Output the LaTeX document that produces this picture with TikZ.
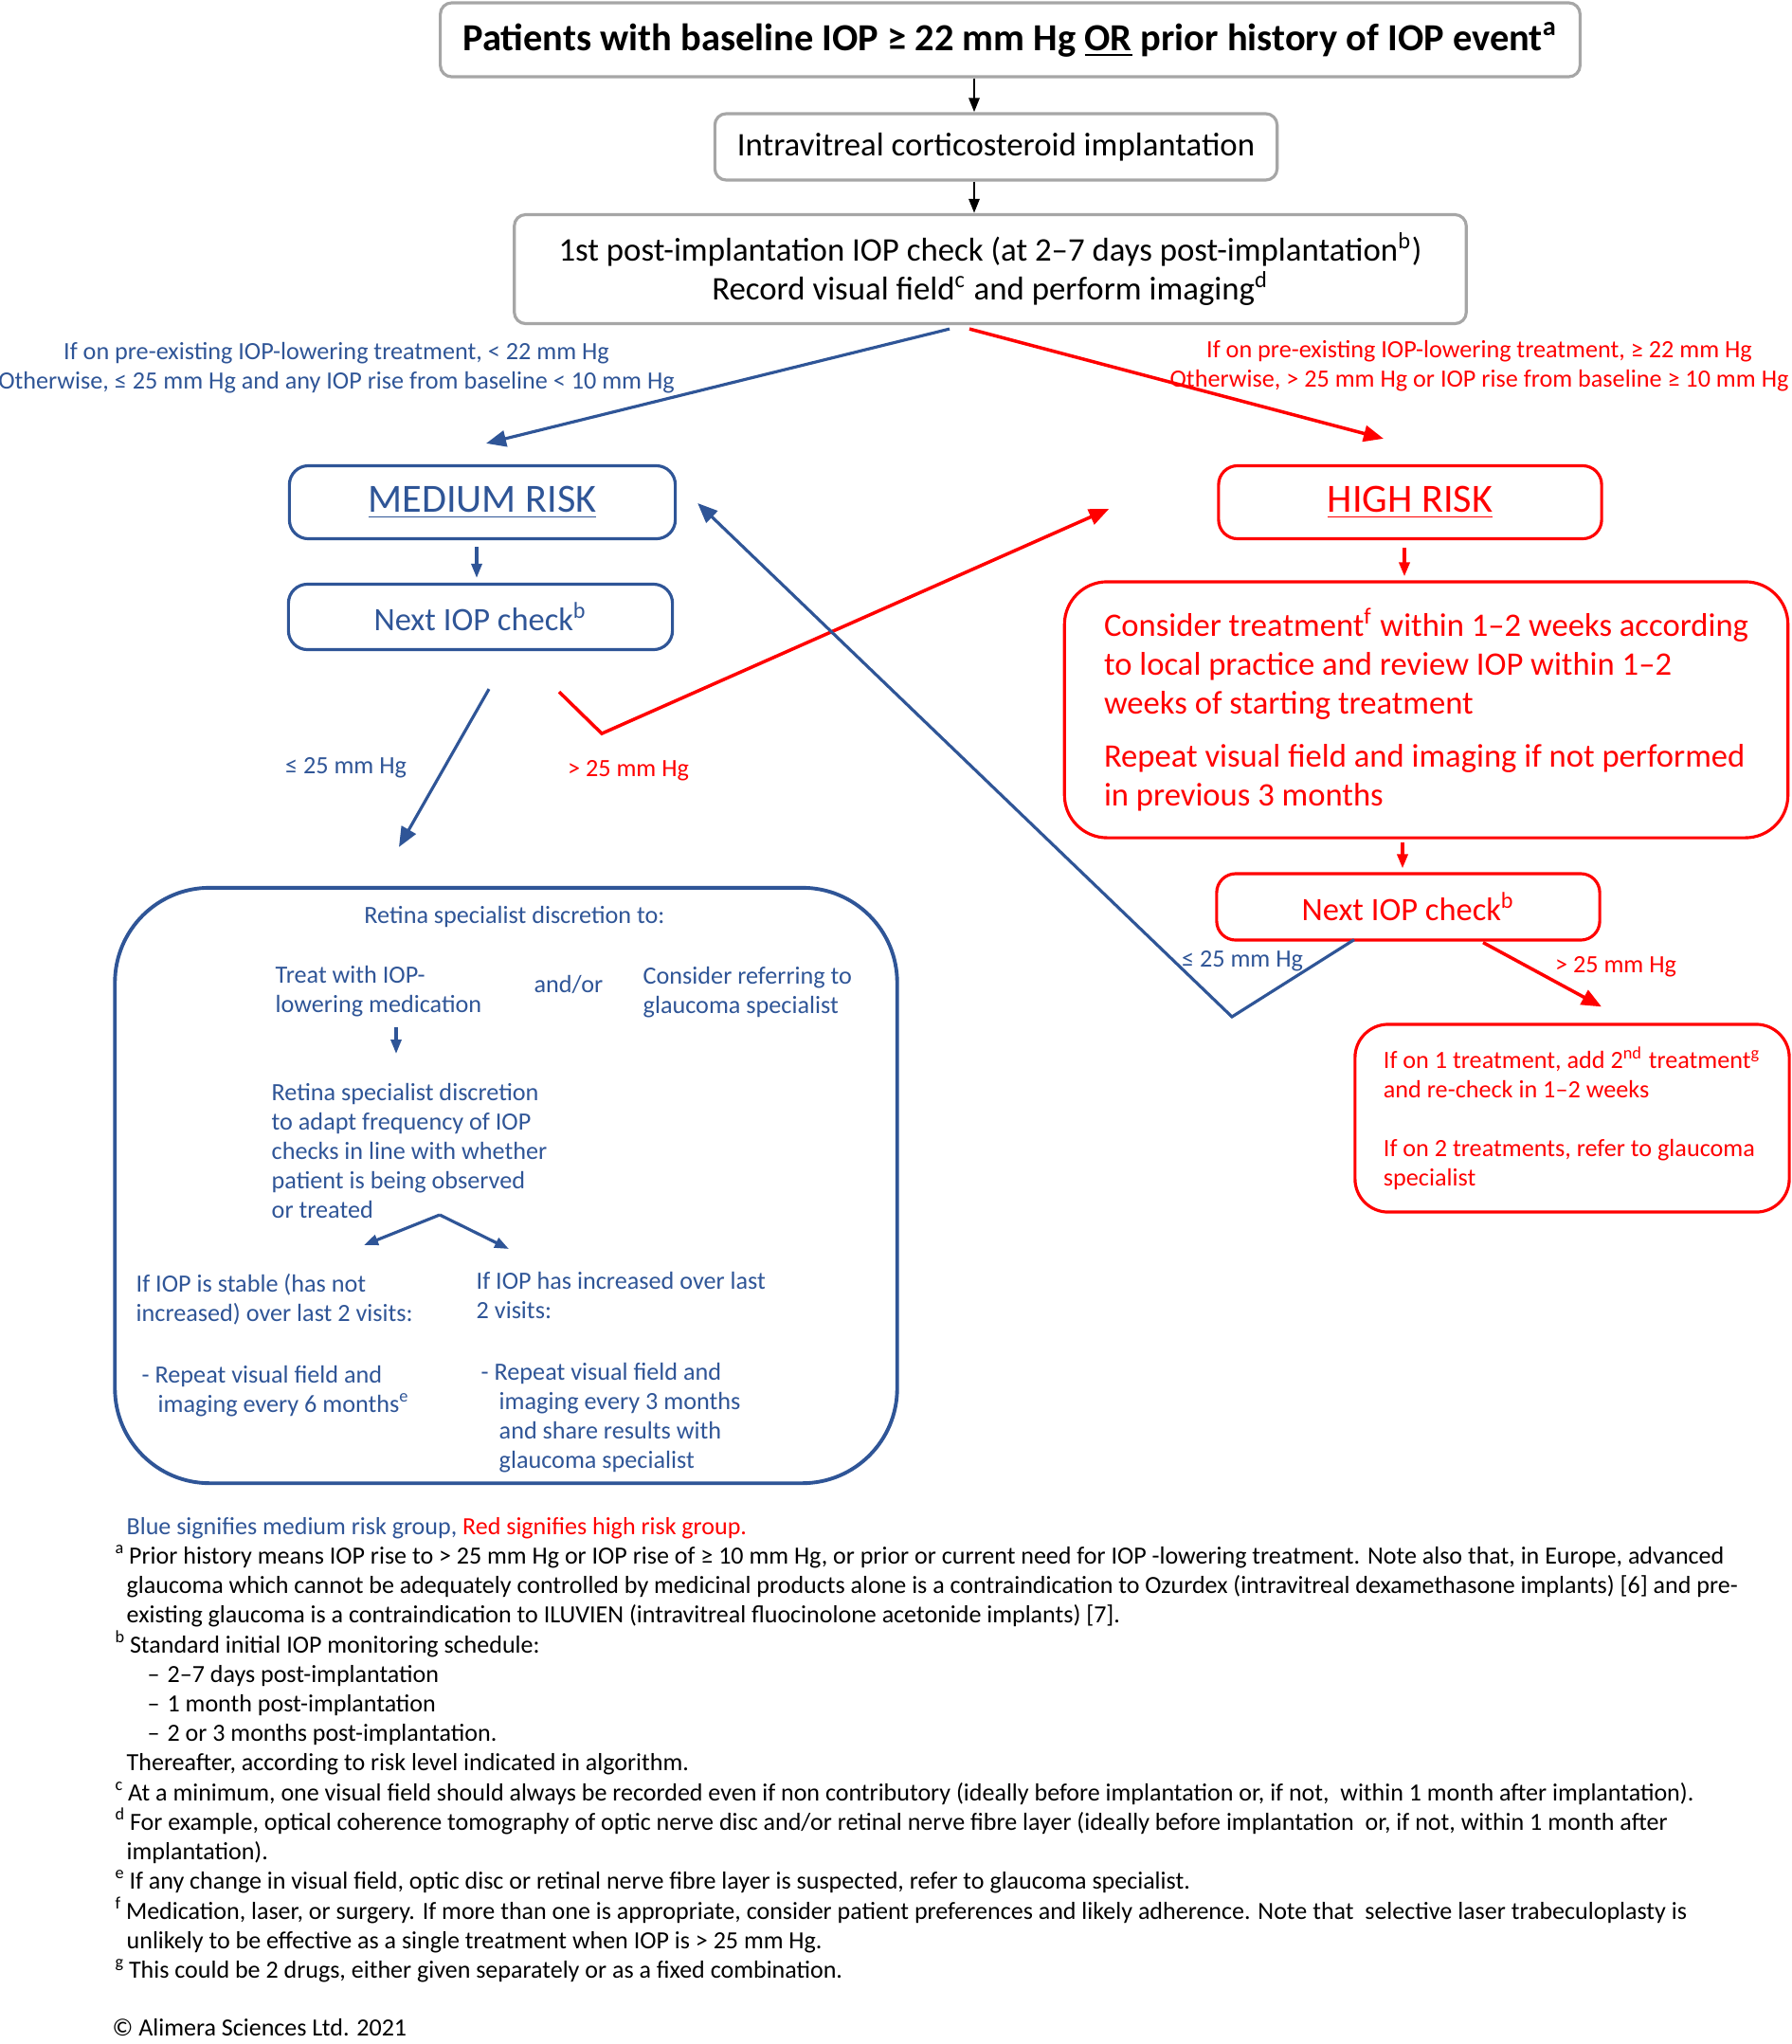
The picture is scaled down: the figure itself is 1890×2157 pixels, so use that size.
\documentclass[tikz,border=0pt]{standalone}
\usepackage{fontspec}
\setmainfont{Carlito}
\usetikzlibrary{positioning, arrows.meta, calc}

\definecolor{medblue}{HTML}{2F5597}
\definecolor{highred}{HTML}{FF0000}
\definecolor{boxgray}{HTML}{A6A6A6}

\tikzset{
  graybox/.style={draw=boxgray, line width=0.9pt, rounded corners=0.12cm, align=center},
  medbox/.style={draw=medblue, text=medblue, line width=0.9pt, rounded corners=0.2cm, align=center},
  highbox/.style={draw=highred, text=highred, line width=0.9pt, rounded corners=0.2cm, align=center},
  medtxt/.style={text=medblue, font=\fontsize{7.45}{8.8}\selectfont, inner sep=0pt, align=left},
  hightxt/.style={text=highred, font=\fontsize{7.45}{8.8}\selectfont, inner sep=0pt, align=left},
  note/.style={anchor=base west, inner sep=0pt, font=\fontsize{7.4}{8.8}\selectfont},
  medline/.style={draw=medblue, line width=0.9pt},
  highline/.style={draw=highred, line width=1.0pt},
  smalltip/.style={-{Triangle[length=0.15cm, width=0.11cm]}},
}
\newcommand{\fnmark}[1]{\textsuperscript{#1}\hspace{0.04cm}}

\begin{document}
\begin{tikzpicture}[x=0.01cm, y=-0.01cm, >={Triangle[length=0.21cm, width=0.17cm]}]
    \useasboundingbox[fill=white] (0,0) rectangle (1890,2157);

    % Top of the flow
    \node[graybox, minimum width=12.02cm, minimum height=0.78cm,
          font=\bfseries\fontsize{11.5}{13.5}\selectfont] (patients) at (1066,42)
        {Patients with baseline IOP ≥ 22 mm Hg \underline{OR} prior history of IOP event\textsuperscript{a}};
    \node[graybox, minimum width=5.93cm, minimum height=0.70cm,
          font=\fontsize{9.9}{11.7}\selectfont] (implant) at (1051,155)
        {Intravitreal corticosteroid implantation};
    \node[graybox, minimum width=10.04cm, minimum height=1.15cm,
          font=\fontsize{9.9}{11.7}\selectfont] (check1) at (1045,284)
        {1st post-implantation IOP check (at 2–7 days post-implantation\textsuperscript{b})\\
         Record visual field\textsuperscript{c} and perform imaging\textsuperscript{d}};
    \coordinate (arrx) at (1028,0);

    % Conditions
    \node[medtxt, align=center, anchor=base] (medcond) at (355,410)
        {If on pre-existing IOP-lowering treatment, < 22 mm Hg\\
         Otherwise, ≤ 25 mm Hg and any IOP rise from baseline < 10 mm Hg};
    \node[hightxt, align=center, anchor=base] (highcond) at (1561,408)
        {If on pre-existing IOP-lowering treatment, ≥ 22 mm Hg\\
         Otherwise, > 25 mm Hg or IOP rise from baseline ≥ 10 mm Hg};

    % Medium risk branch
    \node[medbox, minimum width=4.07cm, minimum height=0.77cm,
          font=\fontsize{12}{14}\selectfont] (medium) at (509,530) {\underline{MEDIUM RISK}};
    \node[medbox, minimum width=4.05cm, minimum height=0.69cm,
          font=\fontsize{9.8}{11.5}\selectfont] (nextM) at (507,651) {Next IOP check\textsuperscript{b}};
    \node[medtxt, anchor=base] (lowM) at (365,816) {≤ 25 mm Hg};
    \node[hightxt, anchor=base] (upM) at (663,819) {> 25 mm Hg};

    % High risk branch
    \node[highbox, minimum width=4.04cm, minimum height=0.77cm,
          font=\fontsize{12}{14}\selectfont] (high) at (1488,530) {\underline{HIGH RISK}};
    \node[highbox, minimum width=7.63cm, minimum height=2.70cm, rounded corners=0.45cm, align=left,
          font=\fontsize{9.85}{11.7}\selectfont] (consider) at (1505,749)
        {Consider treatment\textsuperscript{f} within 1–2 weeks according\\
         to local practice and review IOP within 1–2\\
         weeks of starting treatment\\[4pt]
         Repeat visual field and imaging if not performed\\
         in previous 3 months};
    \node[highbox, minimum width=4.04cm, minimum height=0.70cm,
          font=\fontsize{9.8}{11.5}\selectfont] (nextH) at (1486,957) {Next IOP check\textsuperscript{b}};
    \node[medtxt, anchor=base] (lowH) at (1311,1020) {≤ 25 mm Hg};
    \node[hightxt, anchor=base] (upH) at (1705,1026) {> 25 mm Hg};
    \node[highbox, minimum width=4.58cm, minimum height=1.98cm, rounded corners=0.35cm, align=left,
          font=\fontsize{7.45}{8.8}\selectfont] (final) at (1659,1180)
        {If on 1 treatment, add 2\textsuperscript{nd} treatment\textsuperscript{g}\\
         and re-check in 1–2 weeks\\[8.8pt]
         If on 2 treatments, refer to glaucoma\\
         specialist};

    % Retina specialist box
    \node[draw=medblue, line width=1.1pt, rounded corners=1cm,
          minimum width=8.25cm, minimum height=6.28cm] (discr) at (534,1251) {};
    \node[medtxt, anchor=base] (discrtitle) at (543,974) {Retina specialist discretion to:};
    \node[medtxt, anchor=base west] (treat) at (290,1068) {Treat with IOP-\\lowering medication};
    \node[medtxt, anchor=base] (andor) at (600,1047) {and/or};
    \node[medtxt, anchor=base west] (refer) at (678,1069) {Consider referring to\\glaucoma specialist};
    \node[medtxt, anchor=base west] (adapt) at (286,1285)
        {Retina specialist discretion\\
         to adapt frequency of IOP\\
         checks in line with whether\\
         patient is being observed\\
         or treated};
    \node[medtxt, anchor=base west] (stable) at (143,1394)
        {If IOP is stable (has not\\increased) over last 2 visits:};
    \node[medtxt, anchor=base west] (increase) at (502,1391)
        {If IOP has increased over last\\2 visits:};
    \node[medtxt, anchor=base west] (every6) at (149,1490)
        {- Repeat visual field and\\
         \hspace*{0.17cm}imaging every 6 months\textsuperscript{e}};
    \node[medtxt, anchor=base west] (every3) at (507,1549)
        {- Repeat visual field and\\
         \hspace*{0.19cm}imaging every 3 months\\
         \hspace*{0.19cm}and share results with\\
         \hspace*{0.19cm}glaucoma specialist};
    \coordinate (medcol) at (418,0);
    \coordinate (split) at (464,1282);
    \coordinate (splitL) at (384,1314);
    \coordinate (splitR) at (537,1318);

    % Connectors
    \draw[smalltip, line width=0.8pt] (patients.south -| arrx) -- (implant.north -| arrx);
    \draw[smalltip, line width=0.8pt] (implant.south -| arrx) -- (check1.north -| arrx);
    \draw[medline, ->] ($(check1.south)+(-43,4)$) -- ($(medium.north)+(4,-22)$);
    \draw[highline, ->] ($(check1.south)+(-22,4)$) -- ($(high.north)+(-28,-27)$);
    \draw[medline, smalltip, shorten <=0.07cm, shorten >=0.05cm] (medium.south -| 503,0) -- (nextM.north -| 503,0);
    \draw[highline, smalltip, shorten <=0.08cm, shorten >=0.04cm] (high.south -| 1482,0) -- (consider.north -| 1482,0);
    \draw[highline, smalltip, shorten <=0.03cm, shorten >=0.04cm] (consider.south -| 1480,0) -- (nextH.north -| 1480,0);
    \draw[medline, ->] ($(nextM.south)+(9,40)$) -- ($(discr.north)+(-113,-41)$);
    \draw[highline, ->] ($(nextM.south)+(83,43)$) -- ($(nextM.south)+(128,87)$) -- ($(high.west)+(-114,7)$);
    \draw[medline, ->] ($(nextH.south)+(-57,-2)$) -- (1300,1073) -- ($(medium.east)+(22,1)$);
    \draw[highline, ->] ($(nextH.south)+(79,1)$) -- ($(final.north)+(31,-17)$);
    \draw[medline, smalltip] (treat.south -| medcol) ++(0,11) -- (418,1112);
    \draw[medline, smalltip] (split) -- (splitL);
    \draw[medline, smalltip] (split) -- (splitR);

    % Footnotes
    \node[note] (legend) at (133,1619) {\textcolor{medblue}{Blue signifies medium risk group,} \textcolor{highred}{Red signifies high risk group.}};
    \node[note] (fna1) at (121,1650) {\fnmark{a}Prior history means IOP rise to > 25 mm Hg or IOP rise of ≥ 10 mm Hg, or prior or current need for IOP -lowering treatment. Note also that, in Europe, advanced};
    \node[note] (fna2) at (133,1681) {glaucoma which cannot be adequately controlled by medicinal products alone is a contraindication to Ozurdex (intravitreal dexamethasone implants) [6] and pre-};
    \node[note] (fna3) at (133,1712) {existing glaucoma is a contraindication to ILUVIEN (intravitreal fluocinolone acetonide implants) [7].};
    \node[note] (fnb1) at (121,1744) {\fnmark{b}Standard initial IOP monitoring schedule:};
    \node[note] (fnb2) at (155,1775) {–\hspace{0.08cm}2–7 days post-implantation};
    \node[note] (fnb3) at (155,1806) {–\hspace{0.08cm}1 month post-implantation};
    \node[note] (fnb4) at (155,1837) {–\hspace{0.08cm}2 or 3 months post-implantation.};
    \node[note] (fnb5) at (133,1868) {Thereafter, according to risk level indicated in algorithm.};
    \node[note] (fnc) at (121,1900) {\fnmark{c}At a minimum, one visual field should always be recorded even if non contributory (ideally before implantation or, if not,\ \ within 1 month after implantation).};
    \node[note] (fnd1) at (121,1931) {\fnmark{d}For example, optical coherence tomography of optic nerve disc and/or retinal nerve fibre layer (ideally before implantation\ \ or, if not, within 1 month after};
    \node[note] (fnd2) at (133,1962) {implantation).};
    \node[note] (fne) at (121,1993) {\fnmark{e}If any change in visual field, optic disc or retinal nerve fibre layer is suspected, refer to glaucoma specialist.};
    \node[note] (fnf1) at (121,2025) {\fnmark{f}Medication, laser, or surgery. If more than one is appropriate, consider patient preferences and likely adherence. Note that\ \ selective laser trabeculoplasty is};
    \node[note] (fnf2) at (133,2056) {unlikely to be effective as a single treatment when IOP is > 25 mm Hg.};
    \node[note] (fng) at (121,2087) {\fnmark{g}This could be 2 drugs, either given separately or as a fixed combination.};
    \node[note] (copy) at (118,2148) {© Alimera Sciences Ltd. 2021};
\end{tikzpicture}
\end{document}
